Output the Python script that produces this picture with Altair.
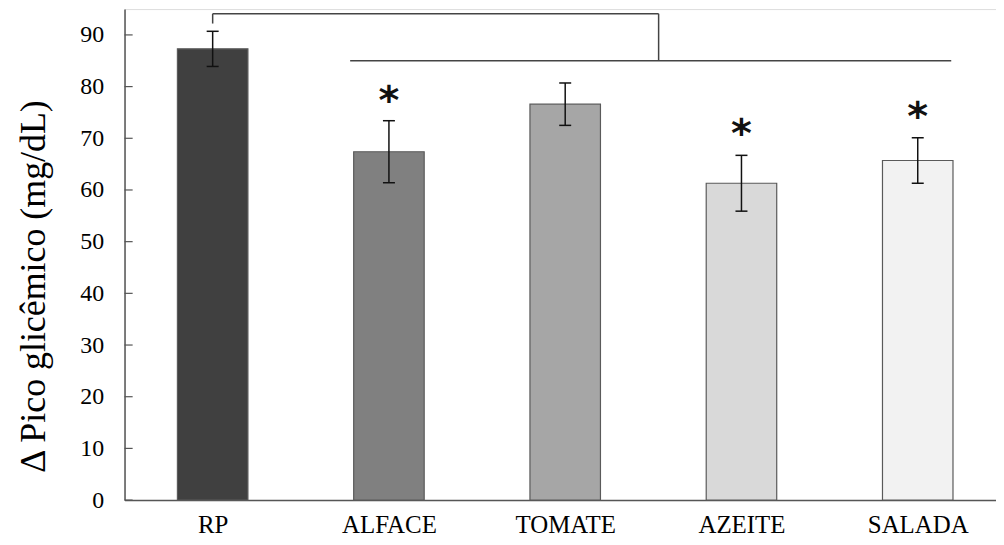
import altair as alt
import pandas as pd

categories = ["RP", "ALFACE", "TOMATE", "AZEITE", "SALADA"]
means = [87.3, 67.4, 76.6, 61.3, 65.7]
errors = [3.4, 6.0, 4.1, 5.4, 4.4]
colors = ["#404040", "#808080", "#a6a6a6", "#d9d9d9", "#f2f2f2"]
star_flags = [False, True, False, True, True]
star_values = [0, 78.6, 0, 72.2, 75.4]
y_ticks = [0, 10, 20, 30, 40, 50, 60, 70, 80, 90]

# bracket segments (x in category units, y in mg/dL)
bracket_x = [0.5, 0.5, 3.03, 1.28]
bracket_x2 = [0.5, 3.03, 3.03, 4.69]
bracket_y = [92.2, 94.1, 94.1, 85.0]
bracket_y2 = [94.1, 94.1, 85.0, 85.0]

pos = [i + 0.5 for i in range(len(categories))]
df = pd.DataFrame({
    "cat": categories, "pos": pos, "mean": means, "err": errors, "color": colors,
})
df["lo"] = df["mean"] - df["err"]
df["hi"] = df["mean"] + df["err"]
df["x1"] = df["pos"] - 0.2
df["x2"] = df["pos"] + 0.2
df["c1"] = df["pos"] - 0.034
df["c2"] = df["pos"] + 0.034

stars = pd.DataFrame({"pos": pos, "y": star_values, "flag": star_flags})
stars = stars[stars["flag"]]

brk = pd.DataFrame({"x": bracket_x, "x2": bracket_x2, "y": bracket_y, "y2": bracket_y2})
ticks = pd.DataFrame({"y": y_ticks, "x": [0] * len(y_ticks), "x2": [0.046] * len(y_ticks)})

label_expr = "[" + ",".join(f"'{c}'" for c in categories) + "][floor(datum.value)]"

xscale = alt.Scale(domain=[0, 4.944], nice=False, zero=False)
yscale = alt.Scale(domain=[0, 95], nice=False)

FONT = "Liberation Serif, Times New Roman, serif"

xaxis = alt.Axis(values=pos, labelExpr=label_expr, title=None, ticks=False, grid=False,
                 labelFont=FONT, labelFontSize=25, labelColor="#000000", labelPadding=13,
                 domainColor="#555555", domainWidth=1.5)
yaxis = alt.Axis(values=y_ticks, title="Δ Pico glicêmico (mg/dL)", ticks=False, grid=False,
                 labelFont=FONT, labelFontSize=24, labelColor="#000000", labelPadding=21,
                 titleFont=FONT, titleFontSize=36, titleFontWeight="normal", titleColor="#000000",
                 titlePadding=27, titleY=278, domainColor="#555555", domainWidth=1.5)

bars = alt.Chart(df).mark_bar(stroke="#5a5a5a", strokeWidth=1.2).encode(
    x=alt.X("x1:Q", scale=xscale, axis=xaxis),
    x2="x2:Q",
    y=alt.Y("mean:Q", scale=yscale, axis=yaxis),
    y2=alt.value(493),
    color=alt.Color("color:N", scale=None),
)

err_v = alt.Chart(df).mark_rule(color="#111111", strokeWidth=1.5).encode(
    x="pos:Q", y="lo:Q", y2="hi:Q")
cap_hi = alt.Chart(df).mark_rule(color="#111111", strokeWidth=1.5).encode(
    x="c1:Q", x2="c2:Q", y="hi:Q")
cap_lo = alt.Chart(df).mark_rule(color="#111111", strokeWidth=1.5).encode(
    x="c1:Q", x2="c2:Q", y="lo:Q")

star_text = alt.Chart(stars).mark_text(text="*", font="DejaVu Sans", fontSize=40,
                                       fontWeight="bold", color="#111111", baseline="middle", dy=8).encode(
    x="pos:Q", y="y:Q")

bracket = alt.Chart(brk).mark_rule(color="#444444", strokeWidth=1.5).encode(
    x="x:Q", x2="x2:Q", y="y:Q", y2="y2:Q")

tick_marks = alt.Chart(ticks).mark_rule(color="#555555", strokeWidth=1.2).encode(
    x="x:Q", x2="x2:Q", y="y:Q")

chart = alt.layer(bars, err_v, cap_hi, cap_lo, star_text, bracket, tick_marks).properties(
    width=875, height=493,
    autosize=alt.AutoSizeParams(type="none"),
    padding={"left": 117, "top": 0, "right": 0, "bottom": 40},
).configure_view(stroke=None).configure(background="white")

chart.save("out.html", embed_options={"renderer": "svg", "actions": False})
